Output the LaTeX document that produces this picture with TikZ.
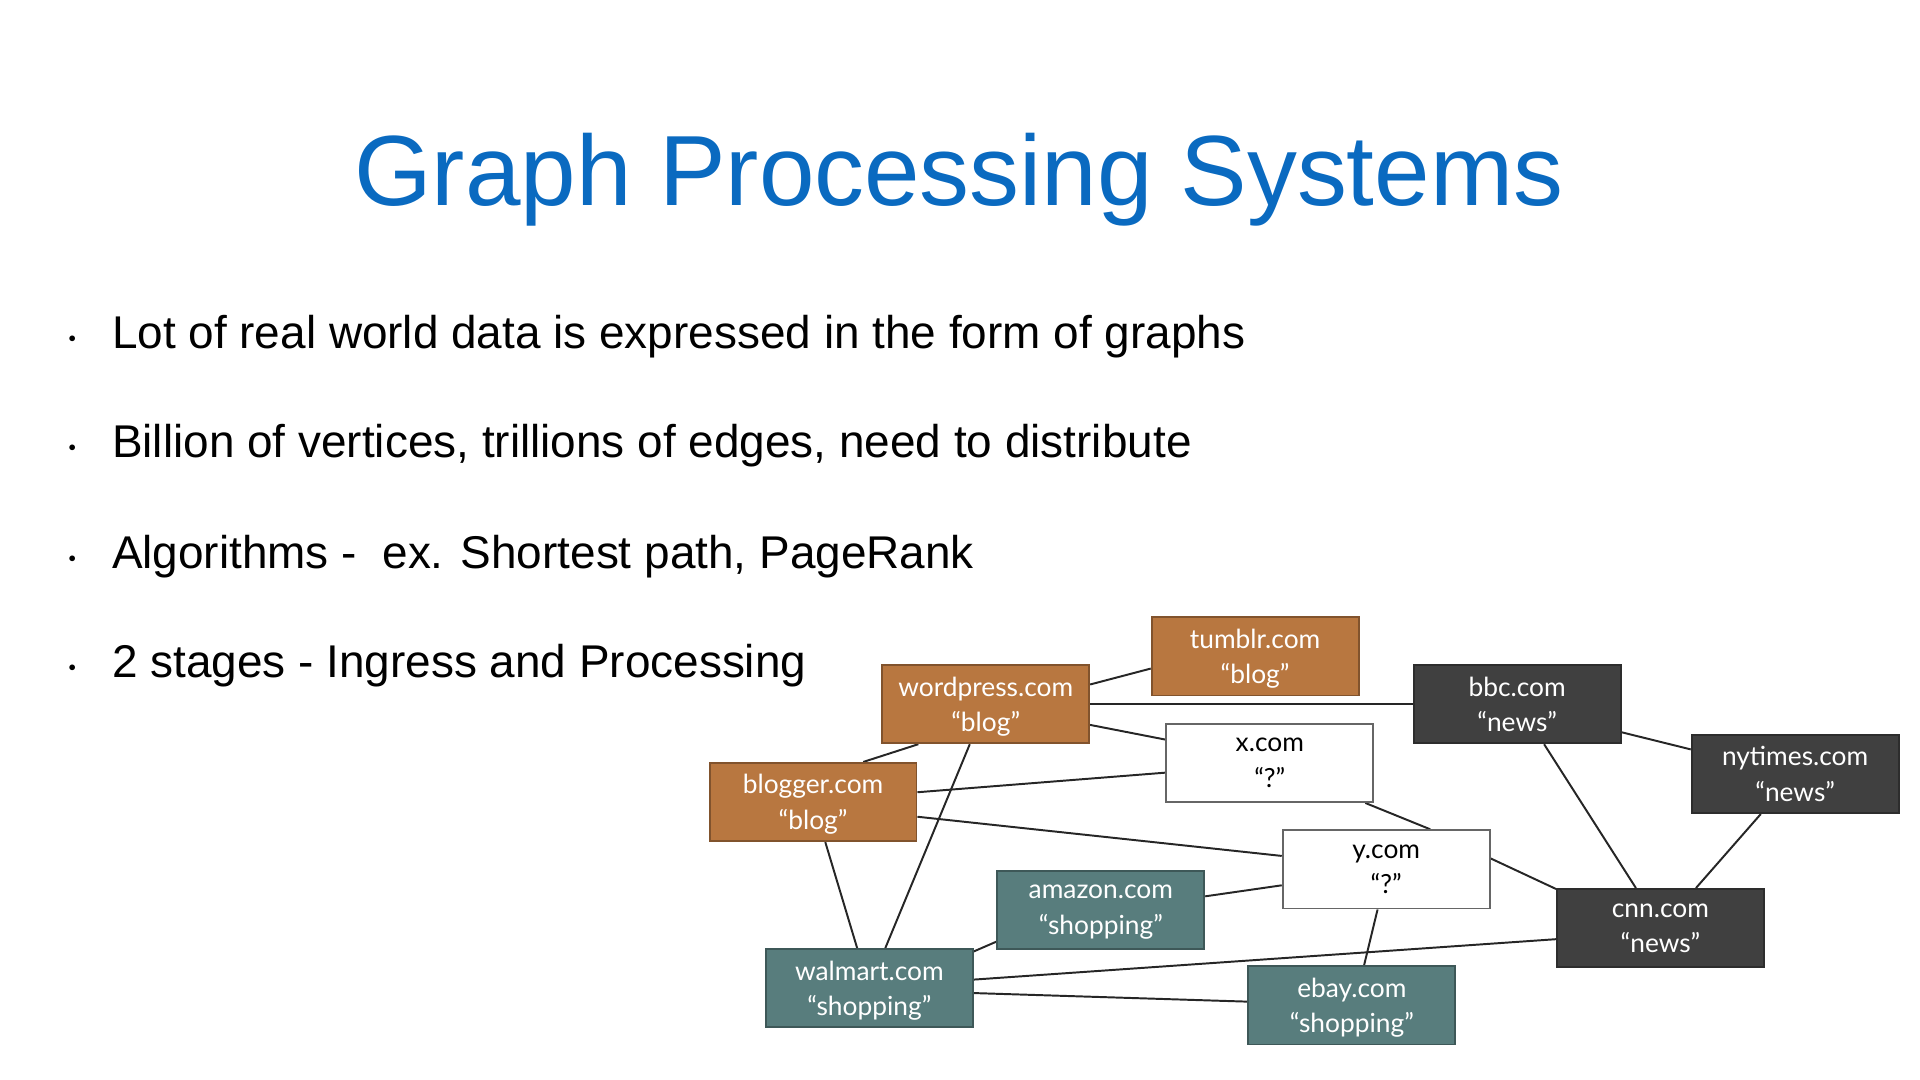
\documentclass[tikz,border=0pt]{standalone}
\usepackage{fontspec}
\usetikzlibrary{backgrounds}
\setmainfont{Liberation Sans}
\newfontfamily\boxfont{Lato}
\definecolor{titleblue}{HTML}{0A6AC0}
\definecolor{blogc}{HTML}{B87740}
\definecolor{newsc}{HTML}{404040}
\definecolor{shopc}{HTML}{587D7D}
\tikzset{
 site/.style={draw=#1!70!black,line width=1.5pt,fill=#1,minimum width=169pt,minimum height=64pt,text=white,align=center,font=\boxfont\fontsize{21.5}{29}\selectfont,inner sep=0pt,text depth=-6pt},
 unk/.style={site=white,draw=gray!80!black,text=black},
 link/.style={line width=1.6pt,black!85},
 bul/.style={anchor=base west,font=\fontsize{37.5}{42}\selectfont},
 dot/.style={anchor=base,font=\fontsize{12}{14}\selectfont}
}
\begin{document}
\begin{tikzpicture}[x=1pt,y=-1pt]
\useasboundingbox (0,0) rectangle (1568,882);
\node[font=\fontsize{81.5}{90}\selectfont,text=titleblue,anchor=base] (title) at (783,168) {Graph Processing Systems};
\foreach \t/\yy [count=\i] in {Lot of real world data is expressed in the form of graphs/285,Billion of vertices{,} trillions of edges{,} need to distribute/374,Algorithms -\ \ ex. Shortest path{,} PageRank/464,2 stages - Ingress and Processing/553}{
 \node[dot] (d\i) at (59,\yy-5) {$\bullet$};
 \node[bul] (b\i) at (88,\yy) {\t};
}
\node[site=blogc] (tumblr) at (1025,536) {tumblr.com\\“blog”};
\node[site=blogc] (wordpress) at (805,575) {wordpress.com\\“blog”};
\node[site=newsc] (bbc) at (1239,575) {bbc.com\\“news”};
\node[unk] (x) at (1037,623) {x.com\\“?”};
\node[site=newsc] (nytimes) at (1466,632) {nytimes.com\\“news”};
\node[site=blogc] (blogger) at (664,655) {blogger.com\\“blog”};
\node[unk] (y) at (1132,710) {y.com\\“?”};
\node[site=shopc] (amazon) at (899,743) {amazon.com\\“shopping”};
\node[site=newsc] (cnn) at (1356,758) {cnn.com\\“news”};
\node[site=shopc] (walmart) at (710,807) {walmart.com\\“shopping”};
\node[site=shopc] (ebay) at (1104,821) {ebay.com\\“shopping”};
\begin{scope}[on background layer]
\draw[link] (wordpress.east|-0,559) -- (tumblr.west|-0,546);
\draw[link] (wordpress.east) -- (bbc.west);
\draw[link] (wordpress.east|-0,592) -- (x.west|-0,604);
\draw[link] ([xshift=-55pt]wordpress.south) -- ([xshift=-100pt]wordpress.south|-blogger.north);
\draw[link] ([xshift=-13pt]wordpress.south) -- ([xshift=13pt]walmart.north);
\draw[link] (blogger.east|-0,647) -- (x.west|-0,631);
\draw[link] (blogger.east|-0,667) -- (y.west|-0,699);
\draw[link] ([xshift=10pt]blogger.south) -- ([xshift=-10pt]walmart.north);
\draw[link] ([xshift=78pt]x.south) -- ([xshift=36pt]y.north);
\draw[link] (bbc.east|-0,598) -- (nytimes.west|-0,612);
\draw[link] ([xshift=22pt]bbc.south) -- ([xshift=-20pt]cnn.north);
\draw[link] ([xshift=-28pt]nytimes.south) -- ([xshift=29pt]cnn.north);
\draw[link] (y.east|-0,701) -- (cnn.west|-0,726);
\draw[link] (amazon.east|-0,732) -- (y.west|-0,723);
\draw[link] ([xshift=-7pt]y.south) -- ([xshift=10pt]ebay.north);
\draw[link] (walmart.east|-0,777) -- (amazon.west|-0,769);
\draw[link] (walmart.east|-0,800) -- (cnn.west|-0,767);
\draw[link] (walmart.east|-0,811) -- (ebay.west|-0,818);
\end{scope}
\end{tikzpicture}
\end{document}
